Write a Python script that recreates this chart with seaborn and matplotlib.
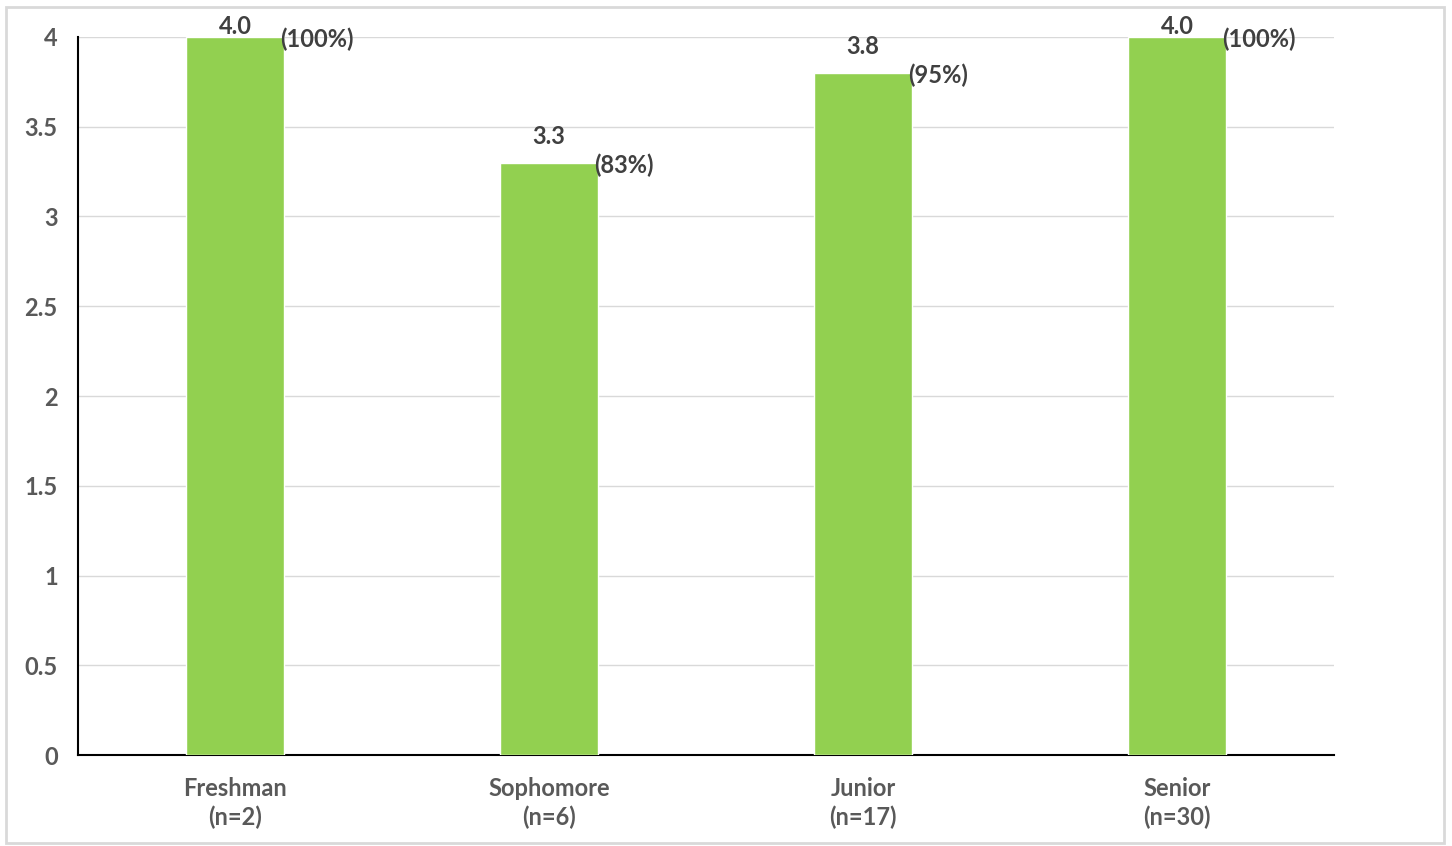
import matplotlib
matplotlib.use("Agg")
import matplotlib.pyplot as plt
import matplotlib.patches as mpatches
import seaborn as sns
import pandas as pd

categories = ["Freshman\n(n=2)", "Sophomore\n(n=6)", "Junior\n(n=17)", "Senior\n(n=30)"]
values = [4.0, 3.3, 3.8, 4.0]
percents = ["(100%)", "(83%)", "(95%)", "(100%)"]
yticks = [0, 0.5, 1, 1.5, 2, 2.5, 3, 3.5, 4]
ytick_labels = ["0", "0.5", "1", "1.5", "2", "2.5", "3", "3.5", "4"]

sns.set_theme(style="white")
plt.rcParams['font.family'] = ['Lato', 'DejaVu Sans']

df = pd.DataFrame({"cat": categories, "val": values})

fig = plt.figure(figsize=(14.52, 8.46), dpi=100)
ax = fig.add_axes([78/1452, 91/846, (1334-78)/1452, (755-37)/846])

sns.barplot(data=df, x="cat", y="val", color="#92D050", saturation=1, width=0.31, ax=ax, zorder=3)

ax.set_ylim(0, 4)
ax.set_xlim(-0.5, 3.5)
ax.set_yticks(yticks)
ax.set_yticklabels(ytick_labels)
ax.yaxis.grid(True, color="#D9D9D9", linewidth=1, zorder=0)
ax.set_axisbelow(True)
ax.set_xlabel("")
ax.set_ylabel("")
for s in ["top", "right"]:
    ax.spines[s].set_visible(False)
ax.spines["left"].set_color("black")
ax.spines["bottom"].set_color("black")
ax.spines["left"].set_linewidth(1.5)
ax.spines["bottom"].set_linewidth(1.5)
ax.tick_params(axis="both", length=0, labelsize=17, labelcolor="#595959")
ax.tick_params(axis="y", pad=14.5)
ax.tick_params(axis="x", pad=15.5)
for lbl in ax.get_xticklabels() + ax.get_yticklabels():
    lbl.set_fontweight("bold")
for lbl in ax.get_xticklabels():
    lbl.set_linespacing(1.32)

for i, patch in enumerate(ax.patches[:len(values)]):
    v = values[i]
    cx = patch.get_x() + patch.get_width() / 2
    right = patch.get_x() + patch.get_width()
    ylab = min(v + 0.145, 4.056)
    ax.text(cx, ylab, f"{v:.1f}", ha="center", va="center", fontsize=17,
            fontweight="bold", color="#404040", clip_on=False)
    ax.text(right - 0.01, v - 0.012, percents[i], ha="left", va="center", fontsize=17,
            fontweight="bold", color="#404040", clip_on=False)

fig.patches.append(mpatches.Rectangle((6/1452, 3/846), 1438/1452, 836/846,
                                      transform=fig.transFigure, fill=False,
                                      edgecolor="#D9D9D9", linewidth=2))

fig.savefig("out.png", dpi=100)
